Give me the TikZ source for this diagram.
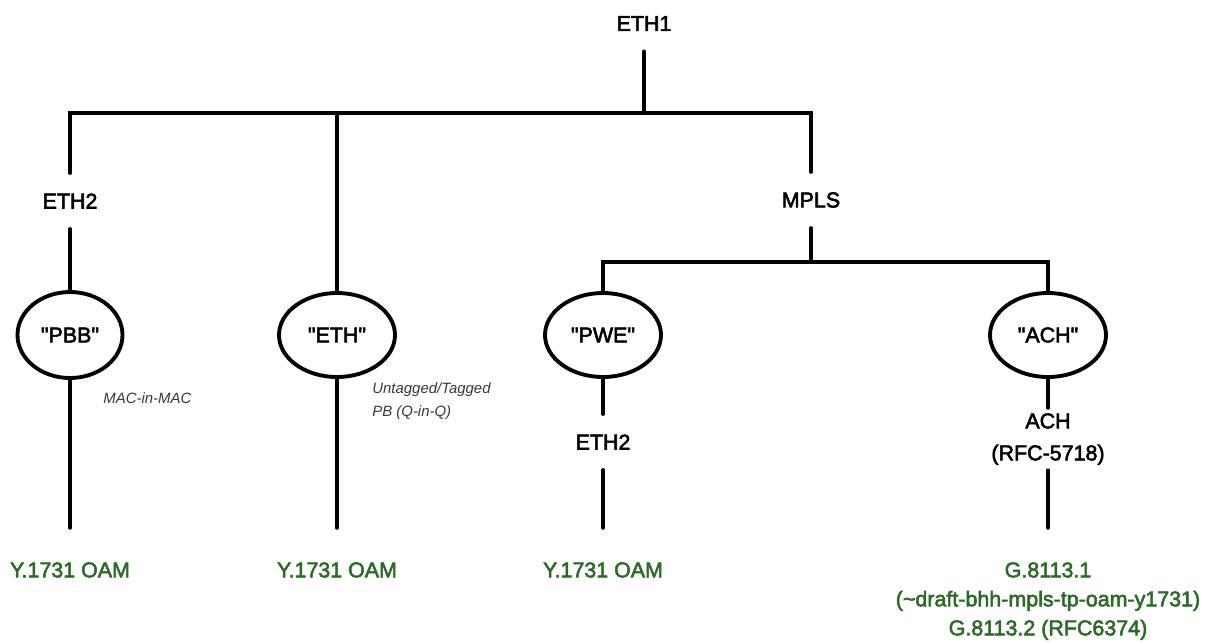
\documentclass[tikz,border=0pt]{standalone}
\usepackage{fontspec}
\setmainfont{Liberation Sans}[BoldFont={Liberation Sans}, BoldFeatures={FakeBold=2.6}]
\definecolor{oamgreen}{RGB}{44,106,40}
\definecolor{notegray}{RGB}{55,55,55}
\usetikzlibrary{shapes, positioning, calc}

\begin{document}
\begin{tikzpicture}[
  lbl/.style={font=\fontsize{12.2}{18}\selectfont\bfseries, inner xsep=2pt, inner ysep=0.4cm},
  layer/.style={draw, ellipse, line width=2.2pt, inner sep=0pt, minimum width=2.32cm, minimum height=1.68cm, font=\fontsize{12.2}{15}\selectfont\bfseries},
  oam/.style={anchor=north, text=oamgreen, align=center, inner ysep=0.68cm, font=\fontsize{12.2}{16.5}\selectfont\bfseries},
  note/.style={font=\fontsize{8.5}{13.2}\selectfont\itshape, text=notegray, inner sep=0pt, align=left},
  tree/.style={line width=2pt, line cap=round}
]
  \useasboundingbox (0,0) rectangle (24.22,-12.84);
  \coordinate (bus) at (0,-2.26);
  \coordinate (mbus) at (0,-5.24);

  \node[lbl] (eth1) at (12.88,-0.47) {ETH1};
  \node[lbl] (eth2a) at (1.40,-4.02) {ETH2};
  \node[lbl] (mpls) at (16.22,-4.00) {MPLS};

  \node[layer, minimum width=2.1cm, minimum height=1.72cm] (pbb) at (1.40,-6.70) {\textquotedbl PBB\textquotedbl};
  \node[layer] (eth) at (6.74,-6.70) {\textquotedbl ETH\textquotedbl};
  \node[layer] (pwe) at (12.06,-6.70) {\textquotedbl PWE\textquotedbl};
  \node[layer] (ach) at (20.96,-6.70) {\textquotedbl ACH\textquotedbl};

  \node[lbl] (eth2b) at (12.06,-8.84) {ETH2};
  \node[lbl, anchor=north, inner ysep=0.1cm, align=center, font=\fontsize{12.2}{18.2}\selectfont\bfseries] (achlbl) at (20.96,-8.16) {ACH\\(RFC-5718)};

  \node[oam] (oam1) at (1.40,-10.56) {Y.1731 OAM};
  \node[oam] (oam2) at (6.74,-10.56) {Y.1731 OAM};
  \node[oam] (oam3) at (12.06,-10.56) {Y.1731 OAM};
  \node[oam] (oam4) at (20.96,-10.56) {G.8113.1\\(\textasciitilde draft-bhh-mpls-tp-oam-y1731)\\G.8113.2 (RFC6374)};

  \node[note, anchor=west] (macinmac) at (2.06,-7.97) {MAC-in-MAC};
  \node[note, anchor=north west] (qinq) at (7.44,-7.64) {Untagged/Tagged\\PB (Q-in-Q)};

  \draw[tree] (eth1) -- (eth1 |- bus);
  \draw[tree] (eth2a) -- (eth2a |- bus) -- (mpls |- bus) -- (mpls);
  \draw[tree] (eth) -- (eth |- bus);
  \draw[tree] (eth2a) -- (pbb);
  \draw[tree] (pbb) -- (oam1);
  \draw[tree] (eth) -- (oam2);
  \draw[tree] (mpls) -- (mpls |- mbus);
  \draw[tree] (pwe) -- (pwe |- mbus) -- (ach |- mbus) -- (ach);
  \draw[tree] (pwe) -- (eth2b);
  \draw[tree] (eth2b) -- (oam3);
  \draw[tree] (ach) -- (achlbl);
  \draw[tree] (achlbl) -- (oam4);
\end{tikzpicture}
\end{document}
